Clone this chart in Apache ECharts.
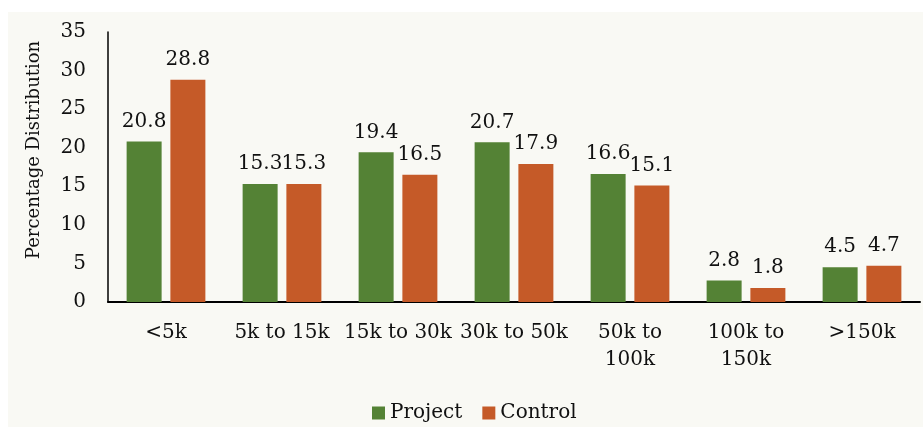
<!DOCTYPE html>
<html>
<head>
<meta charset="utf-8">
<script src="https://cdn.jsdelivr.net/npm/echarts@6/dist/echarts.min.js"></script>
<style>
  html, body { margin: 0; padding: 0; background: #ffffff; }
  #panel { position: absolute; left: 8px; top: 12px; right: 0; bottom: 0; background: #f9f9f4; }
  #chart { position: absolute; left: 0; top: 0; width: 923px; height: 427px; }
</style>
</head>
<body>
<div id="panel"></div>
<div id="chart"></div>
<script>
// Income bands and percentage distribution of households
const categories = ['<5k', '5k to 15k', '15k to 30k', '30k to 50k', '50k to\n100k', '100k to\n150k', '>150k'];
const projectValues = [20.8, 15.3, 19.4, 20.7, 16.6, 2.8, 4.5];
const controlValues = [28.8, 15.3, 16.5, 17.9, 15.1, 1.8, 4.7];
const seriesNames = ['Project', 'Control'];
const yAxisTitle = 'Percentage Distribution';

const FONT = 'DejaVu Serif';
const TEXT = '#111111';

const chart = echarts.init(document.getElementById('chart'), null, { renderer: 'canvas' });

const labelStyle = {
  show: true,
  position: 'top',
  distance: 10,
  fontFamily: FONT,
  fontSize: 20,
  color: TEXT
};

chart.setOption({
  backgroundColor: 'transparent',
  animation: false,
  grid: { left: 108, right: 3, top: 32, bottom: 125, containLabel: false },
  legend: {
    data: seriesNames,
    left: 367,
    top: 398,
    itemWidth: 13,
    itemHeight: 13,
    itemGap: 20,
    icon: 'rect',
    textStyle: { fontFamily: FONT, fontSize: 20, color: TEXT }
  },
  xAxis: {
    type: 'category',
    data: categories,
    axisLine: { show: true, lineStyle: { color: '#000000', width: 2 } },
    axisTick: { show: false },
    axisLabel: {
      interval: 0,
      margin: 17,
      fontFamily: FONT,
      fontSize: 20,
      lineHeight: 27,
      color: TEXT
    }
  },
  yAxis: {
    type: 'value',
    min: 0,
    max: 35,
    interval: 5,
    name: yAxisTitle,
    nameLocation: 'middle',
    nameGap: 65,
    nameRotate: 90,
    nameTextStyle: { fontFamily: FONT, fontSize: 18, color: TEXT, padding: [0, 0, 0, 34] },
    axisLine: { show: true, lineStyle: { color: '#000000', width: 1.5 } },
    axisTick: { show: false },
    splitLine: { show: false },
    axisLabel: { margin: 22, fontFamily: FONT, fontSize: 20, color: TEXT }
  },
  series: [
    {
      name: seriesNames[0],
      type: 'bar',
      data: projectValues,
      barWidth: 35,
      barGap: '25%',
      itemStyle: { color: '#548235' },
      label: labelStyle
    },
    {
      name: seriesNames[1],
      type: 'bar',
      data: controlValues,
      barWidth: 35,
      barGap: '25%',
      itemStyle: { color: '#c55a28' },
      label: labelStyle
    }
  ]
});
</script>
</body>
</html>
